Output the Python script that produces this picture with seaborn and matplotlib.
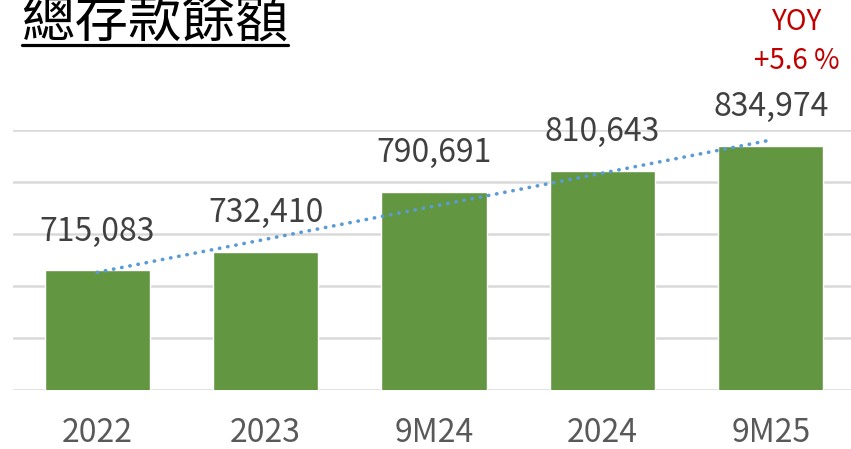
import matplotlib
matplotlib.use("Agg")
import matplotlib.pyplot as plt
import seaborn as sns
import numpy as np
import pandas as pd
from matplotlib.lines import Line2D

categories = ["2022", "2023", "9M24", "2024", "9M25"]
values = [715083, 732410, 790691, 810643, 834974]
title_text = "總存款餘額"
yoy_label = "YOY"
yoy_value = "+5.6 %"

sns.set_theme(style="white")
plt.rcParams['font.family'] = ['Noto Sans CJK TC', 'DejaVu Sans']

df = pd.DataFrame({"cat": categories, "val": values})

W, H = 851, 449
fig = plt.figure(figsize=(W / 100, H / 100), dpi=100)
left, right, top, bottom = 13, 855, 130, 390
ax = fig.add_axes([left / W, (H - bottom) / H, (right - left) / W, (bottom - top) / H])

sns.barplot(data=df, x="cat", y="val", color="#629640", saturation=1, width=0.625, ax=ax, zorder=3)

ax.set_ylim(600000, 850000)
ax.set_xlim(-0.5, 4.5)
ax.set_yticks(np.arange(600000, 850001, 50000))
ax.yaxis.grid(True, color="#d9d9d9", linewidth=1.8, zorder=0)
ax.set_axisbelow(True)
for s in ax.spines.values():
    s.set_visible(False)
ax.tick_params(axis="y", left=False, labelleft=False)
ax.tick_params(axis="x", bottom=False, labelbottom=False)
ax.set_xlabel("")
ax.set_ylabel("")

# category labels below the axis
for i, c in enumerate(categories):
    ax.text(i, -43 / 260, c, transform=ax.get_xaxis_transform(), ha="center", va="center",
            fontsize=23, color="#595959")

# linear trendline
x = np.arange(len(values))
coef = np.polyfit(x, values, 1)
trend = np.polyval(coef, x)
ax.plot(x, trend, color="#5B9BD5", linewidth=2.6, linestyle=(0, (0.1, 2.2)),
        dash_capstyle="round", zorder=4)

for i, v in enumerate(values):
    ax.annotate(f"{v:,}", (i, v), xytext=(0, 28), textcoords="offset points",
                ha="center", va="center", fontsize=23, color="#404040", zorder=5)

fig.text(797 / W, (H - 22) / H, yoy_label, ha="center", va="center", fontsize=20, color="#C00000")
fig.text(797 / W, (H - 61) / H, yoy_value, ha="center", va="center", fontsize=20, color="#C00000")

fig.text(21 / W, (H - 37) / H, title_text, fontsize=38.5, color="black", ha="left", va="baseline")
fig.add_artist(Line2D([22 / W, 288 / W], [(H - 45) / H, (H - 45) / H], color="black", linewidth=2.3,
                      transform=fig.transFigure))

fig.savefig("out.png", dpi=100)
